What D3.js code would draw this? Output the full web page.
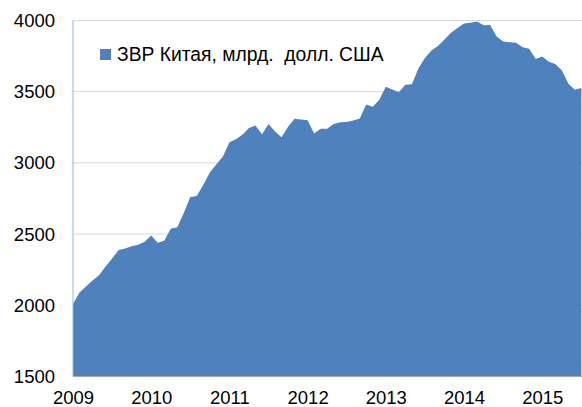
<!DOCTYPE html>
<html>
<head>
<meta charset="utf-8">
<script src="https://cdnjs.cloudflare.com/ajax/libs/d3/7.8.5/d3.min.js"></script>
<style>
    body { margin: 0; background: #fff; }
    svg text { font-family: "Liberation Sans", Arial, sans-serif; fill: #000; }
</style>
</head>
<body>
<div id="chart"></div>
<script>
// China FX reserves, bn USD, monthly from Apr 2009 to Oct 2015
const reserves = [
    2009, 2090, 2132, 2175, 2211, 2273, 2328, 2389, 2399,
    2415, 2425, 2447, 2490, 2440, 2454, 2538, 2548, 2648, 2761, 2768, 2847,
    2932, 2991, 3045, 3145, 3166, 3198, 3245, 3262, 3202, 3274, 3221, 3181,
    3254, 3310, 3305, 3300, 3206, 3240, 3240, 3273, 3285, 3287, 3298, 3312,
    3410, 3395, 3443, 3535, 3515, 3497, 3548, 3553, 3663, 3737, 3790, 3821,
    3867, 3914, 3948, 3979, 3984, 3993, 3966, 3969, 3888, 3853, 3847, 3843,
    3813, 3802, 3730, 3748, 3711, 3694, 3651, 3557, 3514, 3526
];
const yearLabels = ['2009', '2010', '2011', '2012', '2013', '2014', '2015'];
const yTicks = [1500, 2000, 2500, 3000, 3500, 4000];
const seriesName = 'ЗВР Китая, млрд.  долл. США';

const width = 582;
const height = 407;
const left = 73;
const monthStep = 6.517;

const svg = d3.select('#chart').append('svg')
    .attr('width', width)
    .attr('height', height);

let x = d3.scaleLinear()
    .domain([0, reserves.length - 1])
    .range([left, left + (reserves.length - 1) * monthStep]);

let y = d3.scaleLinear()
    .domain([1500, 4000])
    .range([376.5, 20.5]);

// gridlines
svg.append('g')
    .selectAll('line')
    .data(yTicks.slice(1))
    .join('line')
    .attr('x1', left)
    .attr('x2', width)
    .attr('y1', d => y(d))
    .attr('y2', d => y(d))
    .attr('stroke', '#d9d9d9')
    .attr('stroke-width', 1);

// area
const area = d3.area()
    .x((d, i) => x(i))
    .y0(y(1500))
    .y1(d => y(d));

svg.append('path')
    .datum(reserves)
    .attr('d', area)
    .attr('fill', '#4f81bd');

// bottom axis
const xAxis = d3.axisBottom(x)
    .tickValues(yearLabels.map((d, i) => i * 12))
    .tickFormat((d, i) => yearLabels[i])
    .tickSize(0)
    .tickPadding(14);

const gx = svg.append('g')
    .attr('transform', 'translate(0,' + y(1500) + ')')
    .call(xAxis);
gx.select('.domain').remove();
gx.selectAll('text')
    .style('font-size', '18.5px');

svg.append('line')
    .attr('x1', left)
    .attr('x2', width)
    .attr('y1', y(1500))
    .attr('y2', y(1500))
    .attr('stroke', '#a6a6a6');

// left axis
const yAxis = d3.axisLeft(y)
    .tickValues(yTicks)
    .tickFormat(d3.format('d'))
    .tickSize(0)
    .tickPadding(18);

const gy = svg.append('g')
    .attr('transform', 'translate(' + left + ',0)')
    .call(yAxis);
gy.select('.domain').remove();
gy.selectAll('text')
    .style('font-size', '18.5px');

svg.append('line')
    .attr('x1', left)
    .attr('x2', left)
    .attr('y1', y(4000))
    .attr('y2', y(1500))
    .attr('stroke', '#95b3d7');

// legend
const legend = svg.append('g')
    .attr('transform', 'translate(100,49)');

legend.append('rect')
    .attr('width', 11)
    .attr('height', 11)
    .attr('fill', '#4f81bd');

legend.append('text')
    .attr('x', 17)
    .attr('y', 12)
    .style('font-size', '19.3px')
    .style('white-space', 'pre')
    .text(seriesName);
</script>
</body>
</html>
